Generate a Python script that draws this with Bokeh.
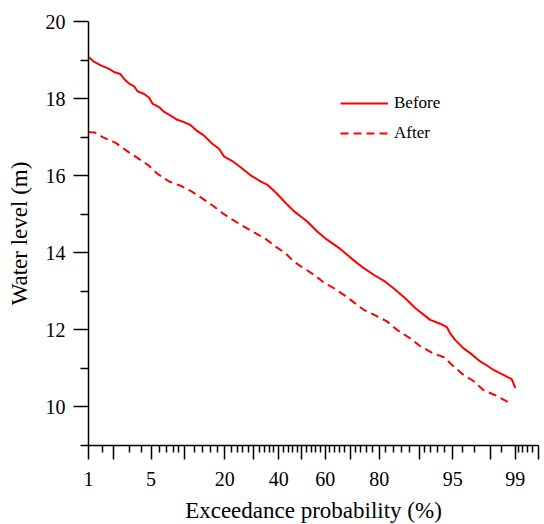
from statistics import NormalDist
from bokeh.plotting import figure
from bokeh.models import Range1d, FixedTicker, Legend, LegendItem
from bokeh.embed import file_html
from bokeh.resources import INLINE

# ---- data (exceedance probability in %, water level in m) ----
before_p = [1.0, 1.18, 1.42, 1.78, 2.03, 2.38, 2.63, 2.98, 3.37, 3.65, 4.27, 4.79,
            5.16, 5.97, 6.55, 7.62, 8.72, 9.94, 11.26, 12.33, 14.30, 16.43, 18.30,
            19.78, 22.39, 25.2, 28.8, 32.6, 35.2, 39.0, 43.6, 46.5, 52.3, 56.6, 60.8,
            66.2, 72.0, 75.0, 78.3, 81.8, 84.1, 87.0, 89.2, 91.9, 93.4, 94.3, 94.7,
            95.25, 96.1, 96.7, 97.4, 97.9, 98.16, 98.6, 98.89, 99.0]
before_h = [19.08, 18.95, 18.86, 18.77, 18.69, 18.64, 18.51, 18.39, 18.32, 18.19, 18.12, 18.02,
            17.87, 17.78, 17.67, 17.56, 17.45, 17.39, 17.31, 17.19, 17.04, 16.83, 16.70,
            16.50, 16.38, 16.22, 16.01, 15.85, 15.77, 15.55, 15.25, 15.08, 14.81, 14.55, 14.34,
            14.10, 13.77, 13.60, 13.43, 13.25, 13.08, 12.82, 12.56, 12.26, 12.16, 12.07, 11.91,
            11.74, 11.52, 11.39, 11.18, 11.05, 10.96, 10.83, 10.72, 10.49]

after_p = [1.0, 1.2, 1.49, 2.12, 2.86, 3.65, 4.61, 5.76, 7.38, 9.31, 11.6, 14.3, 16.9,
           19.3, 22.4, 26.4, 30.6, 34.6, 38.7, 42.9, 46.5, 50.8, 55.2, 59.4, 64.2, 68.2,
           75.0, 79.4, 82.3, 85.0, 88.1, 90.2, 92.4, 93.9, 95.1, 96.1, 96.9, 97.6, 98.3, 98.84]
after_h = [17.13, 17.12, 17.0, 16.85, 16.63, 16.46, 16.29, 16.05, 15.85, 15.74, 15.58, 15.38, 15.20,
           15.03, 14.86, 14.68, 14.51, 14.36, 14.16, 13.99, 13.77, 13.60, 13.43, 13.23, 13.06, 12.88,
           12.52, 12.35, 12.22, 12.00, 11.78, 11.57, 11.39, 11.29, 11.05, 10.83, 10.68, 10.44, 10.29, 10.10]

x_major = [1, 2, 5, 10, 20, 30, 40, 50, 60, 70, 80, 90, 95, 98, 99, 99.5]
x_labels = {1: "1", 5: "5", 20: "20", 40: "40", 60: "60", 80: "80", 95: "95", 99: "99"}
x_minor = [1.5, 3, 4, 6, 7, 8, 9, 12, 14, 16, 18,
           22, 24, 26, 28, 32, 34, 36, 38, 42, 44, 46, 48, 52, 54, 56, 58,
           62, 64, 66, 68, 72, 74, 76, 78, 82, 84, 86, 88, 91, 92, 93, 94,
           96, 97, 98.5, 99.1, 99.2, 99.3, 99.4]
y_major = [10, 12, 14, 16, 18, 20]
y_minor = [9, 11, 13, 15, 17, 19]

nd = NormalDist()


def zq(p):
    return nd.inv_cdf(p / 100.0)


FONT = "Liberation Serif"
RED = "#ff0000"

p = figure(output_backend="svg", toolbar_location=None,
           frame_width=450, frame_height=424,
           min_border_left=88, min_border_right=2, min_border_top=21, min_border_bottom=76,
           x_range=Range1d(zq(1), zq(99.5) + 0.003), y_range=Range1d(9, 20))
p.outline_line_color = None
p.xgrid.visible = False
p.ygrid.visible = False
p.background_fill_color = "white"
p.border_fill_color = "white"

r1 = p.line([zq(v) for v in before_p], before_h, line_color=RED, line_width=2)
r2 = p.line([zq(v) for v in after_p], after_h, line_color=RED, line_width=2,
            line_dash="8 5")

# x axis (normal probability scale)
xmaj = [zq(v) for v in x_major]
p.xaxis.ticker = FixedTicker(ticks=xmaj, minor_ticks=[zq(v) for v in x_minor])
p.xaxis.major_label_overrides = {t: x_labels.get(v, "") for t, v in zip(xmaj, x_major)}
p.yaxis.ticker = FixedTicker(ticks=y_major, minor_ticks=y_minor)

for ax in (p.xaxis[0], p.yaxis[0]):
    ax.axis_line_color = "black"
    ax.axis_line_width = 1.5
    ax.major_tick_line_color = "black"
    ax.minor_tick_line_color = "black"
    ax.major_tick_line_width = 1.5
    ax.minor_tick_line_width = 1.5
    ax.major_tick_in = 0
    ax.minor_tick_in = 0
    ax.major_label_text_font = FONT
    ax.major_label_text_font_size = "20px"
    ax.major_label_text_color = "black"
    ax.axis_label_text_font = FONT
    ax.axis_label_text_font_size = "23px"
    ax.axis_label_text_font_style = "normal"
    ax.axis_label_text_color = "black"

p.xaxis.major_tick_out = 14
p.xaxis.minor_tick_out = 7
p.xaxis.major_label_standoff = 12
p.xaxis.axis_label_standoff = 9
p.xaxis.axis_label = "Exceedance probability (%)"

p.yaxis.major_tick_out = 15
p.yaxis.minor_tick_out = 8
p.yaxis.major_label_standoff = 8
p.yaxis.axis_label_standoff = 11
p.yaxis.axis_label = "Water level (m)"

legend = Legend(items=[LegendItem(label="Before", renderers=[r1]),
                       LegendItem(label="After", renderers=[r2])],
                location=(252, 302), orientation="vertical",
                glyph_width=48, glyph_height=20, label_height=20,
                label_standoff=6, spacing=10, padding=0, margin=0,
                border_line_color=None, background_fill_alpha=0,
                label_text_font=FONT, label_text_font_size="17px",
                label_text_color="black")
p.add_layout(legend)

open("out.html", "w").write(file_html(p, INLINE))
